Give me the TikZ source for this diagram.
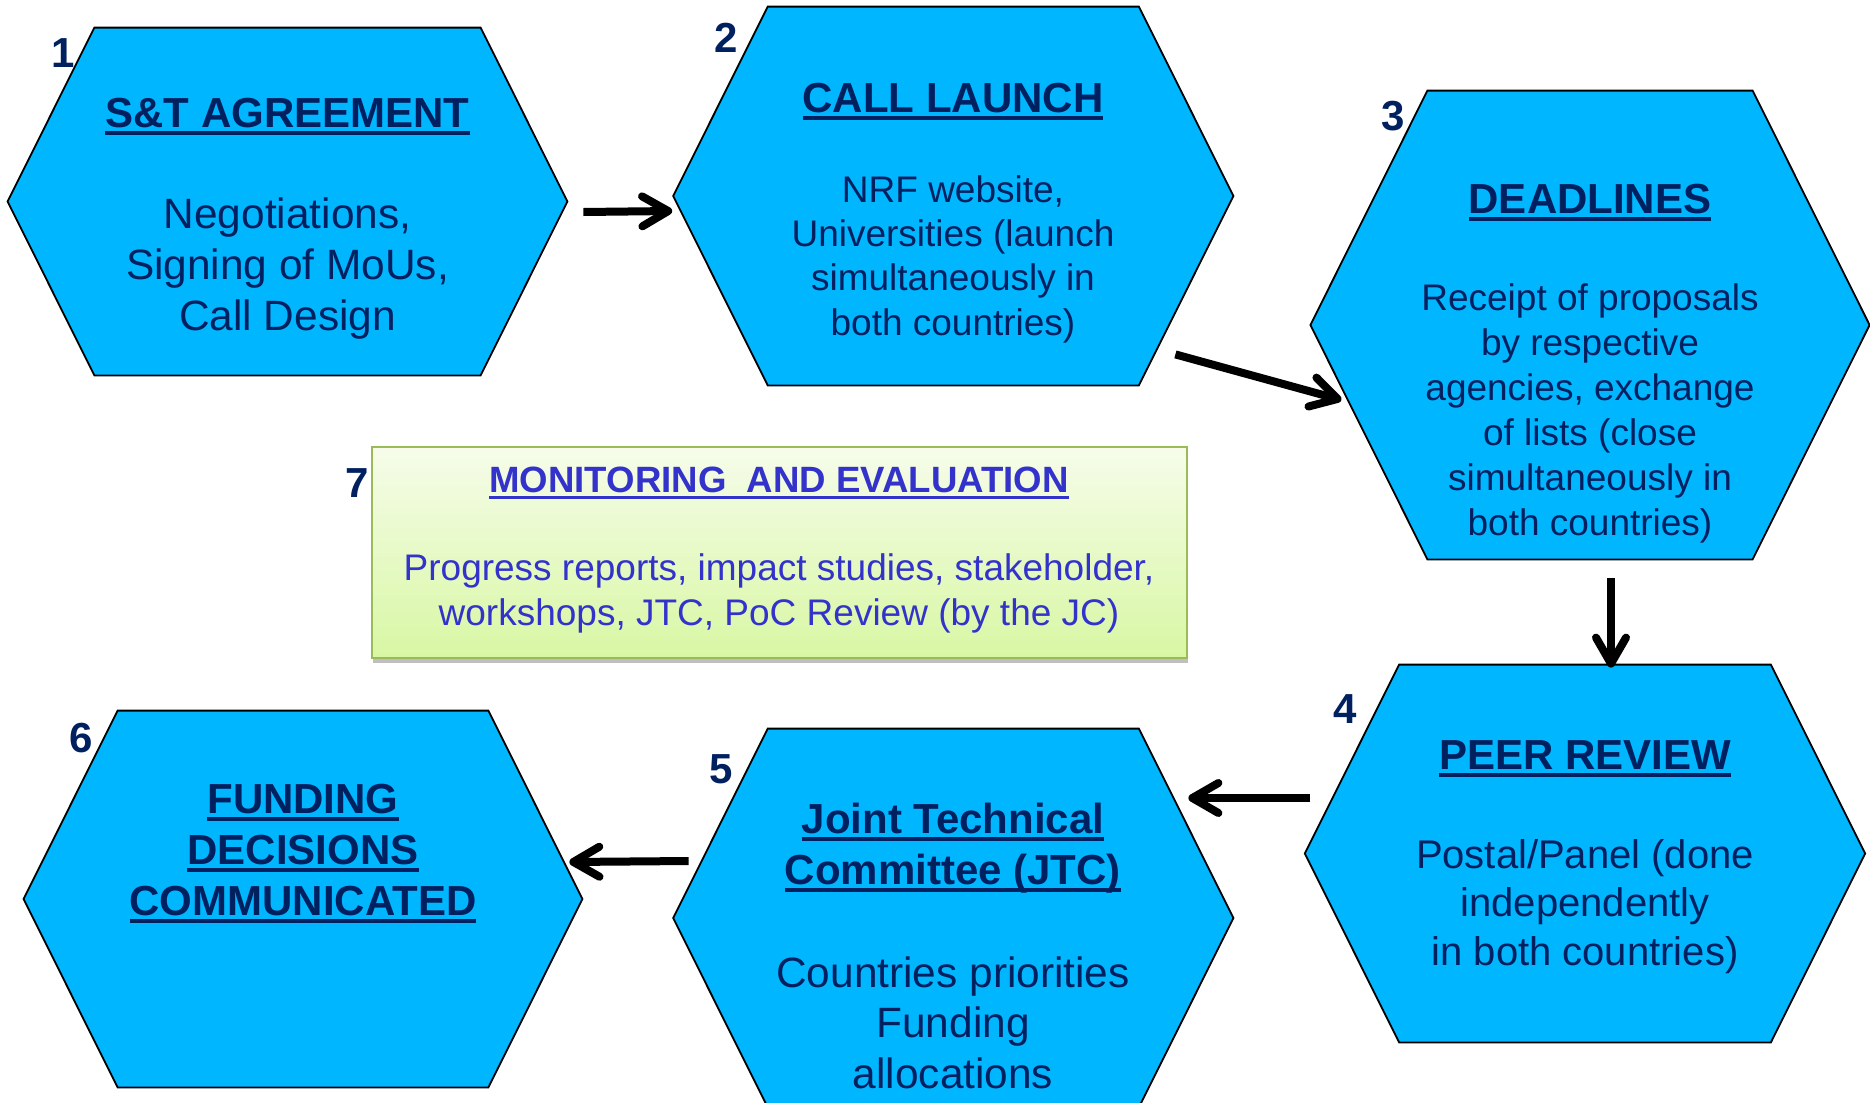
\documentclass[tikz,border=0pt]{standalone}
\usepackage{fontspec}
\setmainfont{Liberation Sans}
\usetikzlibrary{arrows.meta,calc,shadows}
\definecolor{hexfill}{RGB}{0,182,255}
\definecolor{navy}{RGB}{0,32,96}
\definecolor{mblue}{RGB}{51,51,204}
\definecolor{mtop}{RGB}{246,252,234}
\definecolor{mbot}{RGB}{216,247,164}
\definecolor{mborder}{RGB}{155,187,89}
\newsavebox\ulbox
\newcommand\myul[1]{\sbox\ulbox{#1}\rlap{\rule[-4pt]{\wd\ulbox}{2pt}}\usebox\ulbox}
\newcommand\myulsm[1]{\sbox\ulbox{#1}\rlap{\rule[-3.5pt]{\wd\ulbox}{1.7pt}}\usebox\ulbox}
\newcommand\hexnode[5]{%
  \node[hexbox, minimum width=#4*0.5pt, minimum height=#5*0.5pt] (#1) at (#2,#3) {};
  \draw[hexline] (#1.west) -- ([xshift=#5*0.125pt]#1.north west) -- ([xshift=-#5*0.125pt]#1.north east)
    -- (#1.east) -- ([xshift=-#5*0.125pt]#1.south east) -- ([xshift=#5*0.125pt]#1.south west) -- cycle;
}
\tikzset{
  hexbox/.style={shape=rectangle, draw=none, inner sep=0pt},
  hexline/.style={fill=hexfill, draw=black, line width=0.9pt, line join=miter},
  txt/.style={anchor=base, inner sep=0pt, text=navy},
  ttl/.style={txt, font=\bfseries\fontsize{21}{25.5}\selectfont},
  num/.style={anchor=base, inner sep=0pt, text=navy, font=\bfseries\fontsize{21}{25}\selectfont},
  arr/.style={line width=4pt, -{Straight Barb[length=13pt,width=15pt,round]}},
  mbox/.style={shape=rectangle, draw=mborder, line width=1pt, top color=mtop, bottom color=mbot,
    minimum width=407.5pt, minimum height=105.5pt, inner sep=0pt,
    drop shadow={shadow xshift=0.5pt, shadow yshift=-2.5pt, fill=black, opacity=0.25}},
  mtxt/.style={anchor=base, inner sep=0pt, text=mblue},
}
\begin{document}
\begin{tikzpicture}[x=0.5pt, y=-0.5pt]
\path[use as bounding box, fill=white] (0,0) rectangle (1870,1103);

% hexagons
\hexnode{h1}{287.5}{201.5}{559}{347}
\hexnode{h2}{953.3}{196}{559.4}{378}
\hexnode{h3}{1590}{325}{558.4}{468}
\hexnode{h4}{1585}{853.5}{559.5}{377}
\hexnode{h5}{953.3}{918}{559.4}{378}
\hexnode{h6}{303}{899}{558}{376}

% monitoring box
\node[mbox] (m7) at (779,552) {};

% hex 1
\node[ttl] (t1) at (287.5,127) {\myul{S\&T AGREEMENT}};
\node[txt, font=\fontsize{21.2}{25.5}\selectfont] (b1) at (287.5,228)
  {\begin{tabular}[t]{@{}c@{}}Negotiations,\\Signing of MoUs,\\Call Design\end{tabular}};
% hex 2
\node[ttl] (t2) at (953,112) {\myul{CALL LAUNCH}};
\node[txt, font=\fontsize{18.5}{22.2}\selectfont] (b2) at (953,202)
  {\begin{tabular}[t]{@{}c@{}}NRF website,\\Universities (launch\\simultaneously in\\both countries)\end{tabular}};
% hex 3
\node[ttl] (t3) at (1590,213) {\myul{DEADLINES}};
\node[txt, font=\fontsize{18.5}{22.5}\selectfont] (b3) at (1590,310)
  {\begin{tabular}[t]{@{}c@{}}Receipt of proposals\\by respective\\agencies, exchange\\of lists (close\\simultaneously in\\both countries)\end{tabular}};
% hex 4
\node[ttl] (t4) at (1585,769) {\myul{PEER REVIEW}};
\node[txt, font=\fontsize{20}{24.25}\selectfont] (b4) at (1585,868)
  {\begin{tabular}[t]{@{}c@{}}Postal/Panel (done\\independently\\in both countries)\end{tabular}};
% hex 5
\node[ttl] (t5) at (953,833)
  {\begin{tabular}[t]{@{}c@{}}\myul{Joint Technical}\\\myul{Committee (JTC)}\end{tabular}};
\node[txt, font=\fontsize{21.2}{25.25}\selectfont] (b5) at (953,987)
  {\begin{tabular}[t]{@{}c@{}}Countries priorities\\Funding\\allocations\end{tabular}};
% hex 6
\node[ttl] (t6) at (303,813)
  {\begin{tabular}[t]{@{}c@{}}\myul{FUNDING}\\\myul{DECISIONS}\\\myul{COMMUNICATED}\end{tabular}};
% box 7
\node[mtxt, font=\bfseries\fontsize{18.3}{22}\selectfont] (t7) at (779,492)
  {\myulsm{MONITORING~~AND EVALUATION}};
\node[mtxt, font=\fontsize{18.5}{22.5}\selectfont] (b7) at (779,580)
  {\begin{tabular}[t]{@{}c@{}}Progress reports, impact studies, stakeholder,\\workshops, JTC, PoC Review (by the JC)\end{tabular}};

% numbers
\node[num] (n1) at (63,67) {1};
\node[num] (n2) at (726,53) {2};
\node[num] (n3) at (1393,130) {3};
\node[num] (n4) at (1345,723) {4};
\node[num] (n5) at (721,783) {5};
\node[num] (n6) at (81,752) {6};
\node[num] (n7) at (357,497) {7};

% arrows
\draw[arr] ($(h1.east)+(16,10.5)$) -- ($(h2.west)+(-1,15)$);
\draw[arr] ($(h2.south east)+(-58,-31)$) -- ($(h3.west)+(31,75)$);
\draw[arr] ($(h3.south)+(21,19)$) -- ($(h4.north)+(26,3)$);
\draw[arr] ($(h4.west)+(5.5,-55.5)$) -- ($(h5.east)+(-45,-120)$);
\draw[arr] ($(h5.west)+(15.4,-57)$) -- ($(h6.east)+(-13,-37)$);
\end{tikzpicture}
\end{document}
